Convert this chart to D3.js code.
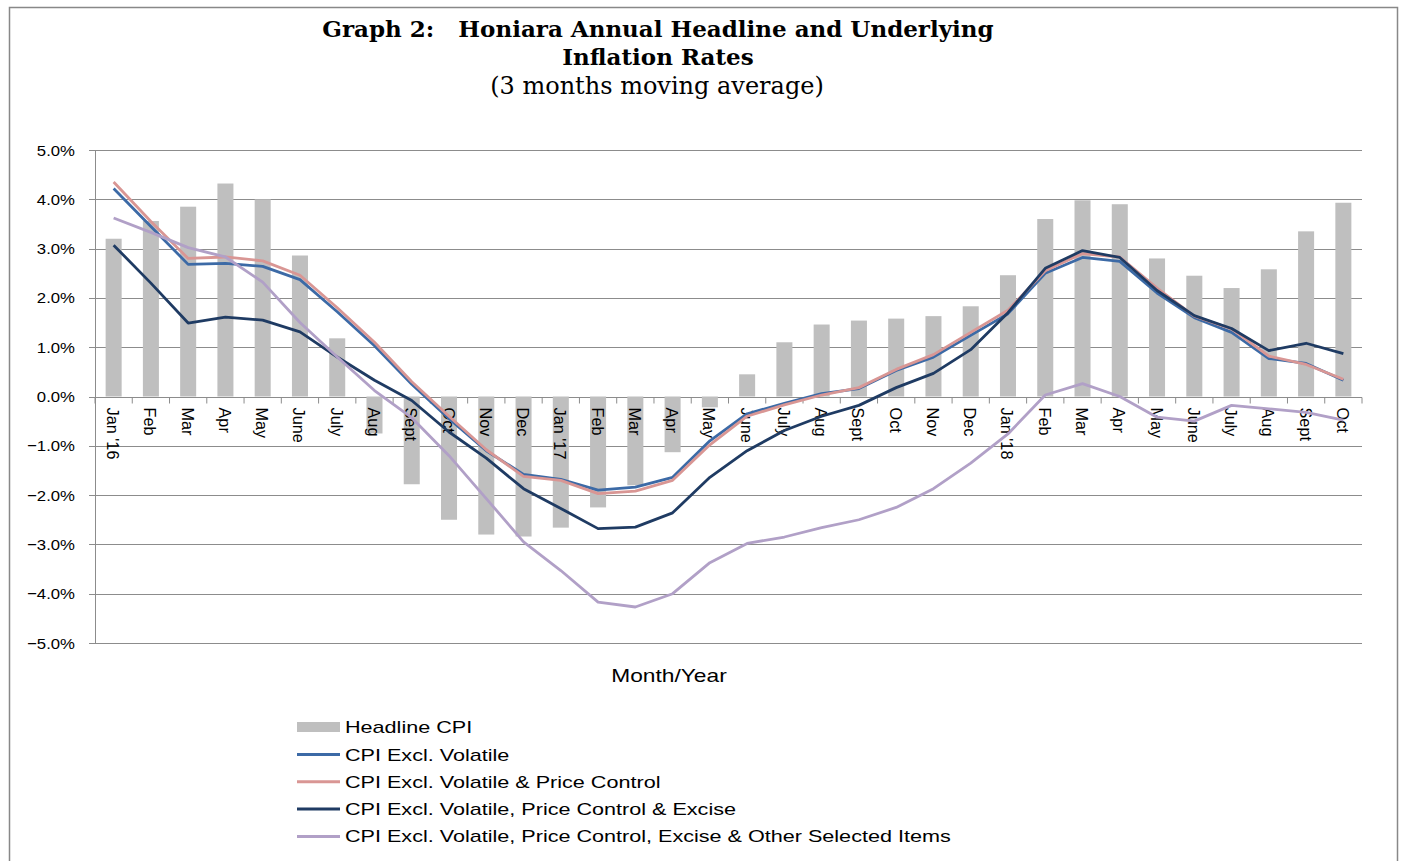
<!DOCTYPE html>
<html>
<head>
<meta charset="utf-8">
<script src="https://cdn.jsdelivr.net/npm/d3@7"></script>
<style>
  body { margin: 0; background: #fff; }
  svg { display: block; }
</style>
</head>
<body>
<svg width="1405" height="861"></svg>
<script>
// months Jan '16 .. Oct '18
const months = ["Jan '16","Feb","Mar","Apr","May","June","July","Aug","Sept","Oct","Nov","Dec",
	"Jan '17","Feb","Mar","Apr","May","June","July","Aug","Sept","Oct","Nov","Dec",
	"Jan '18","Feb","Mar","Apr","May","June","July","Aug","Sept","Oct"];

const headline = [3.2,3.56,3.85,4.32,4.0,2.86,1.18,-0.75,-1.78,-2.5,-2.8,-2.84,
	-2.66,-2.25,-1.8,-1.13,-0.22,0.45,1.1,1.46,1.54,1.58,1.63,1.83,
	2.46,3.6,3.98,3.9,2.8,2.45,2.2,2.58,3.35,3.93];

const exVolatile = [4.22,3.45,2.68,2.7,2.64,2.37,1.72,1.03,0.25,-0.45,-1.1,-1.58,
	-1.68,-1.9,-1.84,-1.64,-0.9,-0.35,-0.14,0.06,0.16,0.53,0.8,1.24,
	1.68,2.5,2.82,2.74,2.1,1.6,1.3,0.77,0.67,0.33];

const exVolPrice = [4.35,3.55,2.8,2.83,2.75,2.46,1.8,1.1,0.3,-0.4,-1.08,-1.62,
	-1.7,-1.97,-1.92,-1.7,-0.98,-0.4,-0.17,0.03,0.18,0.55,0.85,1.3,
	1.75,2.55,2.9,2.83,2.2,1.63,1.37,0.82,0.65,0.35];

const exVolPriceExcise = [3.07,2.3,1.49,1.61,1.55,1.31,0.8,0.33,-0.08,-0.72,-1.25,-1.87,
	-2.27,-2.68,-2.65,-2.36,-1.64,-1.1,-0.69,-0.4,-0.18,0.18,0.47,0.95,
	1.7,2.6,2.96,2.82,2.15,1.64,1.38,0.93,1.08,0.87];

const exAllSelected = [3.62,3.33,3.02,2.83,2.32,1.5,0.8,0.12,-0.43,-1.2,-2.07,-2.95,
	-3.53,-4.17,-4.27,-4.0,-3.37,-2.98,-2.85,-2.66,-2.5,-2.25,-1.87,-1.35,
	-0.76,0.03,0.26,0.0,-0.42,-0.5,-0.18,-0.25,-0.32,-0.48];

const yTicks = [5,4,3,2,1,0,-1,-2,-3,-4,-5];

const lineSeries = [
	{name: "CPI Excl. Volatile", values: exVolatile, color: "#3c6aa6"},
	{name: "CPI Excl. Volatile & Price Control", values: exVolPrice, color: "#d99694"},
	{name: "CPI Excl. Volatile, Price Control & Excise", values: exVolPriceExcise, color: "#1f3b63"},
	{name: "CPI Excl. Volatile, Price Control, Excise & Other Selected Items", values: exAllSelected, color: "#b1a0c7"}
];

let svg = d3.select("svg");

// outer frame
svg.append("rect")
	.attr("x", 9.5).attr("y", 7.5)
	.attr("width", 1388).attr("height", 860)
	.attr("fill", "none").attr("stroke", "#888").attr("stroke-width", 1.5);

// titles
const serif = "'DejaVu Serif', 'Liberation Serif', serif";
svg.append("text").attr("x", 658).attr("y", 37)
	.attr("text-anchor", "middle").style("font-family", serif)
	.style("font-size", "23px").style("font-weight", "bold")
	.attr("xml:space", "preserve")
	.text("Graph 2:   Honiara Annual Headline and Underlying");
svg.append("text").attr("x", 658).attr("y", 65)
	.attr("text-anchor", "middle").style("font-family", serif)
	.style("font-size", "23px").style("font-weight", "bold")
	.text("Inflation Rates");
svg.append("text").attr("x", 657).attr("y", 94)
	.attr("text-anchor", "middle").style("font-family", serif)
	.style("font-size", "24px")
	.text("(3 months moving average)");

const plotLeft = 95, plotRight = 1362, plotTop = 150, plotBottom = 643;

let x = d3.scaleBand()
	.domain(d3.range(months.length))
	.range([plotLeft, plotRight])
	.paddingInner(0.57)
	.paddingOuter(0.285);

let xc = d3.scaleBand().domain(d3.range(months.length)).range([plotLeft, plotRight]);

let y = d3.scaleLinear().domain([-5, 5]).range([plotBottom, plotTop]);

const sans = "'Liberation Sans', Arial, sans-serif";

// gridlines
svg.append("g")
	.selectAll("line")
	.data(yTicks)
	.enter().append("line")
	.attr("x1", plotLeft - 6).attr("x2", plotRight)
	.attr("y1", d => Math.round(y(d)) + 0.5)
	.attr("y2", d => Math.round(y(d)) + 0.5)
	.attr("stroke", "#8c8c8c").attr("stroke-width", 1);

// y tick labels
svg.append("g")
	.selectAll("text")
	.data(yTicks)
	.enter().append("text")
	.attr("transform", d => "translate(75," + (y(d) + 5.5) + ") scale(1.08,1)")
	.attr("text-anchor", "end")
	.style("font-family", sans).style("font-size", "15.5px")
	.text(d => d3.format(".1f")(d) + "%");

// left axis
svg.append("line")
	.attr("x1", plotLeft + 0.5).attr("x2", plotLeft + 0.5)
	.attr("y1", plotTop).attr("y2", plotBottom)
	.attr("stroke", "#8c8c8c");

// headline bars
svg.append("g")
	.selectAll("rect")
	.data(headline)
	.enter().append("rect")
	.attr("x", (d, i) => x(i))
	.attr("width", x.bandwidth())
	.attr("y", d => y(Math.max(0, d)))
	.attr("height", d => Math.abs(y(d) - y(0)))
	.attr("fill", "#bfbfbf");

// zero axis with ticks between categories
let y0 = Math.round(y(0)) + 0.5;
svg.append("g")
	.selectAll("line")
	.data(d3.range(months.length + 1))
	.enter().append("line")
	.attr("x1", i => plotLeft + i * xc.step())
	.attr("x2", i => plotLeft + i * xc.step())
	.attr("y1", y0).attr("y2", y0 + 6)
	.attr("stroke", "#8c8c8c");

// x labels, rotated
svg.append("g")
	.selectAll("text")
	.data(months)
	.enter().append("text")
	.attr("transform", (d, i) => "translate(" + (xc(i) + xc.bandwidth() / 2 - 6.5) + "," + (y0 + 10) + ") rotate(90) scale(1.05,1.1)")
	.style("font-family", sans).style("font-size", "15.5px")
	.text(d => d);

// lines
let line = d3.line()
	.x((d, i) => xc(i) + xc.bandwidth() / 2)
	.y(d => y(d));

svg.append("g")
	.selectAll("path")
	.data(lineSeries)
	.enter().append("path")
	.attr("d", d => line(d.values))
	.attr("fill", "none")
	.attr("stroke", d => d.color)
	.attr("stroke-width", 2.8)
	.attr("stroke-linejoin", "round");

// axis title
svg.append("text")
	.attr("transform", "translate(669,682) scale(1.3,1)")
	.attr("text-anchor", "middle")
	.style("font-family", sans).style("font-size", "17.5px")
	.text("Month/Year");

// legend
let legend = svg.append("g");
legend.append("rect")
	.attr("x", 297).attr("y", 722).attr("width", 43).attr("height", 10)
	.attr("fill", "#bfbfbf");
legend.append("text")
	.attr("transform", "translate(345,733) scale(1.27,1)")
	.style("font-family", sans).style("font-size", "17px")
	.text("Headline CPI");

let items = legend.selectAll("g.item")
	.data(lineSeries)
	.enter().append("g")
	.attr("class", "item")
	.attr("transform", (d, i) => "translate(0," + (754.5 + i * 27.3) + ")");
items.append("line")
	.attr("x1", 297).attr("x2", 340)
	.attr("stroke", d => d.color).attr("stroke-width", 3);
items.append("text")
	.attr("transform", "translate(345,6) scale(1.27,1)")
	.style("font-family", sans).style("font-size", "17px")
	.text(d => d.name);
</script>
</body>
</html>
